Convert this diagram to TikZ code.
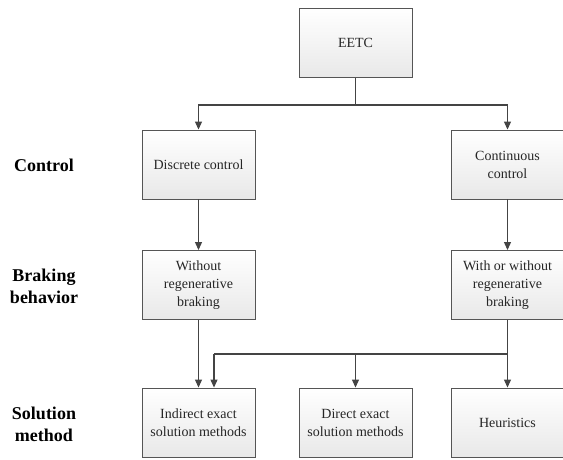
\documentclass[tikz,border=0pt]{standalone}
\usepackage{fontspec}
\setmainfont{Liberation Serif}
\usetikzlibrary{arrows.meta}
\definecolor{linec}{HTML}{444444}
\definecolor{boxb}{HTML}{555555}
\definecolor{boxbot}{HTML}{E8E8E8}
\begin{document}
\begin{tikzpicture}[x=1pt,y=-1pt,
  box/.style={draw=boxb, line width=0.9pt, top color=white, bottom color=boxbot,
    minimum width=113pt, minimum height=69pt, inner sep=2pt, align=center,
    text=black!85, font=\fontsize{14}{18}\selectfont},
  lab/.style={align=center, font=\fontsize{18}{22}\selectfont\bfseries, text=black},
  conn/.style={draw=linec, line width=1.1pt},
  arr/.style={conn, -{Triangle[length=8pt,width=7pt]}}]
\useasboundingbox (0,0) rectangle (563,459);
\node[box] (eetc) at (355.5,43) {EETC};
\node[box] (disc) at (198.5,164.5) {Discrete control};
\node[box] (cont) at (507.5,164.5) {Continuous\\control};
\node[box] (wo) at (198.5,285) {Without\\regenerative\\braking};
\node[box] (wow) at (507.5,285) {With or without\\regenerative\\braking};
\node[box] (ind) at (198.5,422.5) {Indirect exact\\solution methods};
\node[box] (dir) at (355.5,422.5) {Direct exact\\solution methods};
\node[box] (heu) at (507.5,422.5) {Heuristics};
\node[lab] (l1) at (44,165) {Control};
\node[lab] (l2) at (44,286) {Braking\\behavior};
\node[lab] (l3) at (44,424) {Solution\\method};
\coordinate (j1) at (355.5,105);
\coordinate (j2) at (507.5,354);
\coordinate (j3) at (214,354);
\coordinate (j4) at (355.5,354);
\draw[conn] (eetc.south) -- (j1);
\draw[arr] (j1) -| (disc.north);
\draw[arr] (j1) -| (cont.north);
\draw[arr] (disc.south) -- (wo.north);
\draw[arr] (cont.south) -- (wow.north);
\draw[arr] (wo.south) -- (ind.north);
\draw[conn] (wow.south) -- (j2);
\draw[arr] (j2) -- (heu.north);
\draw[conn] (j2) -- (j3);
\draw[arr] (j3) -- (j3 |- ind.north);
\draw[arr] (j4) -- (dir.north);
\end{tikzpicture}
\end{document}
